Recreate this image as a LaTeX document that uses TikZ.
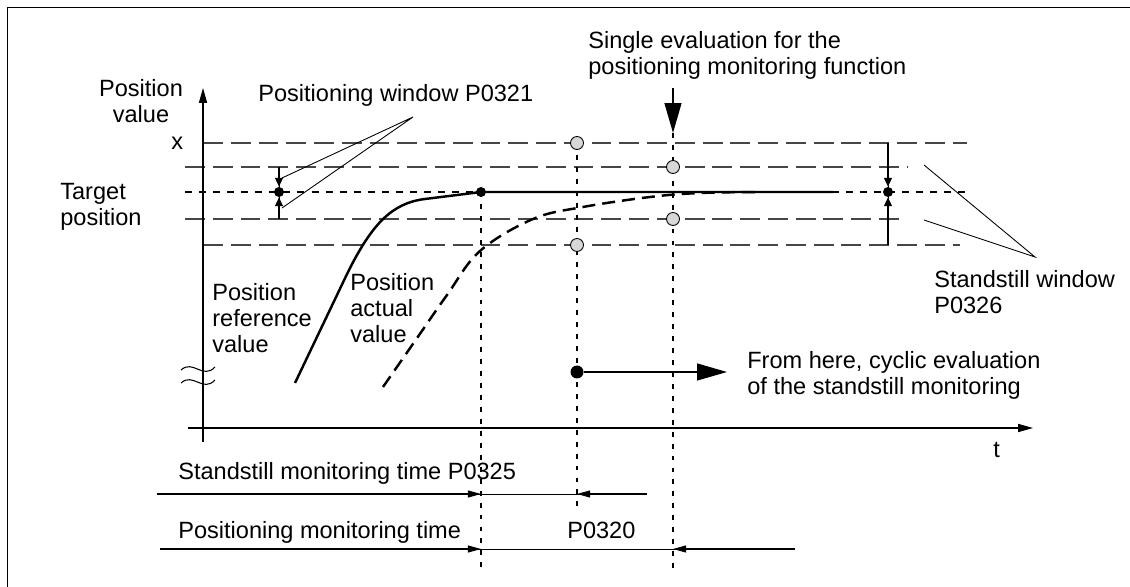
\documentclass[tikz,border=0pt]{standalone}
\usepackage{fontspec}
\setmainfont{Liberation Sans}
\usepackage{tikz}
\usetikzlibrary{arrows.meta, positioning, calc}
\usepackage{xcolor}
\definecolor{gridgray}{RGB}{70, 70, 70}
\definecolor{ringgray}{RGB}{215, 215, 215}

\begin{document}
\begin{tikzpicture}[
  x=0.02cm, y=-0.02cm,
  lbl/.style={inner sep=0pt, anchor=base west, align=left, font=\fontsize{13.4}{15}\selectfont},
  grid/.style={draw=gridgray, line width=0.6pt, dash pattern=on 11.3pt off 4.5pt},
  target/.style={line width=1.2pt, dash pattern=on 4pt off 4pt},
  vline/.style={line width=0.6pt, dash pattern=on 2.8pt off 4pt},
  ring/.style={circle, draw, fill=ringgray, line width=0.5pt, minimum size=0.26cm, inner sep=0pt},
  dot/.style={circle, fill, minimum size=0.2cm, inner sep=0pt},
  arr/.style={-{Triangle[length=8.5pt, width=4.6pt]}, line width=0.75pt},
  bigarr/.style={-{Triangle[length=17pt, width=9.6pt]}, line width=0.75pt},
  tarr/.style={-{Triangle[length=7.5pt, width=4pt]}, line width=0.6pt},
  marr/.style={-{Triangle[length=5pt, width=4.5pt]}, line width=0.6pt},
  leader/.style={line width=0.5pt},
  curve/.style={line width=1.4pt}
]
  \useasboundingbox (0,0) rectangle (1130,587);
  \draw[line width=0.8pt] (7.5,587) -- (7.5,7.5) -- (1130,7.5);

  % key points
  \coordinate (pwpt) at (279,192);
  \coordinate (refpt) at (481,192);
  \coordinate (swpt) at (888,192);
  \coordinate (cycpt) at (577,372);
  \coordinate (pwtip) at (413,117);
  \coordinate (swtip) at (1035,257);
  \coordinate (sgtop) at (673,88);
  \coordinate (sgtip) at (673,133);
  \coordinate (cyctip) at (727,372);

  % window lines
  \draw[grid] (203,143) -- (967,143);
  \draw[grid] (185,167) -- (908,167);
  \draw[target] (185,192) -- (967,192);
  \draw[grid] (185,219) -- (905,219);
  \draw[grid] (203,245) -- (960,245);

  % time markers
  \draw[vline] (refpt) -- (481,572);
  \draw[vline] (577,143) -- (577,508);
  \draw[vline] (sgtip) -- (673,573);

  % axes
  \draw[arr] (203,442) -- (203,88);
  \draw[arr] (188,428) -- (1033,428);
  \draw[line width=0.6pt] (181,370) .. controls (193,359) and (203,380) .. (215,367);
  \draw[line width=0.6pt] (181,383) .. controls (193,372) and (203,393) .. (215,380);

  % curves
  \draw[curve] (295,383) -- (348,272) .. controls (372,224) and (392,203) .. (425,199) -- (refpt) -- (833,192);
  \draw[curve, dash pattern=on 7.4pt off 4pt] plot[smooth, tension=0.6] coordinates {(383,387) (415,341) (447,295) (480,251) (533,219) (583,207) (650,197) (700,193) (760,192)};

  % dots and rings
  \node[dot] (pwdot) at (pwpt) {};
  \node[dot] (refdot) at (refpt) {};
  \node[dot] (swdot) at (swpt) {};
  \node[dot, minimum size=0.26cm] (cycdot) at (cycpt) {};
  \node[ring] (r1) at (577,143) {};
  \node[ring] (r2) at (577,245) {};
  \node[ring] (r3) at (673,167) {};
  \node[ring] (r4) at (673,219) {};

  % window markers
  \draw[leader] (279,167) -- (279,219);
  \draw[marr] (279,167) -- (pwdot);
  \draw[marr] (279,219) -- (pwdot);
  \draw[leader] (282,178) -- (pwtip) -- (282,208);
  \draw[leader] (888,143) -- (888,245);
  \draw[marr] (888,143) -- (swdot);
  \draw[marr] (888,245) -- (swdot);
  \draw[leader] (924,165) -- (swtip) -- (924,220);

  \draw[bigarr] (sgtop) -- (sgtip);
  \draw[bigarr] (cycdot) -- (cyctip);

  % time bars
  \draw[leader] (157,494) -- (647,494);
  \draw[tarr] (157,494) -- (481,494);
  \draw[tarr] (647,494) -- (577,494);
  \draw[leader] (160,549) -- (795,549);
  \draw[tarr] (160,549) -- (481,549);
  \draw[tarr] (795,549) -- (673,549);

  % labels (base = last line)
  \node[lbl, anchor=base, align=center] (posval) at (141,123) {Position\\value};
  \node[lbl] (xlbl) at (171,150) {x};
  \node[lbl] (tgt) at (60,226) {Target\\position};
  \node[lbl] (pwin) at (258,102) {Positioning window P0321};
  \node[lbl] (single) at (588,75) {Single evaluation for the\\positioning monitoring function};
  \node[lbl] (swin) at (934,314) {Standstill window\\P0326};
  \node[lbl] (pref) at (212,353) {Position\\reference\\value};
  \node[lbl] (pact) at (350,343) {Position\\actual\\value};
  \node[lbl] (cyc) at (747,395) {From here, cyclic evaluation\\of the standstill monitoring};
  \node[lbl] (tlbl) at (993,458) {t};
  \node[lbl] (sstime) at (178,480) {Standstill monitoring time P0325};
  \node[lbl] (pmtime) at (178,539) {Positioning monitoring time};
  \node[lbl] (p320) at (567,539) {P0320};
\end{tikzpicture}
\end{document}
